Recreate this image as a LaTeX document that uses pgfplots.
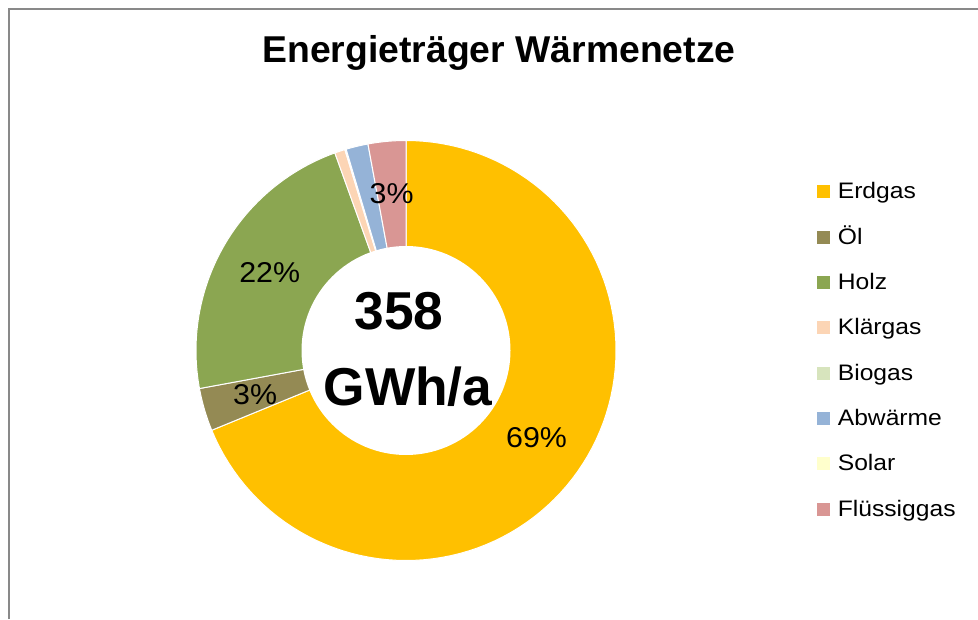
\documentclass[border=0pt]{standalone}
\usepackage{pgfplots}
\pgfplotsset{compat=1.18}
\usepackage{fontspec}
\setmainfont{Liberation Sans}
\usepackage{graphicx}

\definecolor{cErdgas}{HTML}{FFC000}
\definecolor{cOel}{HTML}{948A54}
\definecolor{cHolz}{HTML}{8BA651}
\definecolor{cKlaergas}{HTML}{FCD5B5}
\definecolor{cBiogas}{HTML}{D7E4BD}
\definecolor{cAbwaerme}{HTML}{95B3D7}
\definecolor{cSolar}{HTML}{FFFFCC}
\definecolor{cFluessiggas}{HTML}{D99694}
\definecolor{frame}{HTML}{898989}

% shares in percent (total 358 GWh/a)
\pgfplotstableread{
name        value  color
Erdgas      68.8   cErdgas
Oel         3.3    cOel
Holz        22.4   cHolz
Klaergas    0.8    cKlaergas
Biogas      0.1    cBiogas
Abwaerme    1.7    cAbwaerme
Solar       0.0    cSolar
Fluessiggas 2.9    cFluessiggas
}\sharetable

\tikzset{pct/.style={font=\fontsize{21.5}{25}\selectfont, inner sep=0pt}}

\newcommand\cum{0}
% #1 value (percent), #2 colour, #3 label
\newcommand\donutwedge[3]{%
  \pgfmathsetmacro\aS{90-3.6*\cum}%
  \pgfmathsetmacro\cumnew{\cum+#1}%
  \pgfmathsetmacro\aE{90-3.6*\cumnew}%
  \pgfmathsetmacro\aM{(\aS+\aE)/2}%
  \pgfmathsetmacro\xL{157.25*cos(\aM)}%
  \pgfmathsetmacro\yL{157.25*sin(\aM)}%
  \xdef\cum{\cumnew}%
  \edef\temp{\noexpand\addplot[fill=#2, draw=white, line width=0.75pt,
     domain=\aE:\aS, samples=100, forget plot]
     ({210*cos(x)},{210*sin(x)}) -- (axis cs:0,0) -- cycle;
     \noexpand\node[pct] at (axis cs:\xL,\yL) {\noexpand\scalebox{1.06}[1]{#3}};}%
  \temp
}

\newcommand\legtext[1]{\scalebox{1.1}[1]{#1}}

\begin{document}
\begin{tikzpicture}
\useasboundingbox (0,0) rectangle (733.5pt,464.25pt);
\begin{axis}[
  at={(304.5pt,201.375pt)}, anchor=origin,
  x=0.75pt, y=0.75pt,
  xmin=-406, xmax=572, ymin=-268.5, ymax=350.5,
  hide axis, clip=false,
  legend style={at={(0.8357,0.7045)}, anchor=north west, draw=none, fill=none,
    inner sep=0pt, outer sep=0pt, row sep=18pt, column sep=6pt,
    font=\fontsize{16.8}{19}\selectfont,
    nodes={inner sep=0pt, text height=12pt, text depth=4pt}},
  legend cell align=left,
]
\pgfplotstablegetelem{0}{value}\of\sharetable \let\vA\pgfplotsretval
\pgfplotstablegetelem{1}{value}\of\sharetable \let\vB\pgfplotsretval
\pgfplotstablegetelem{2}{value}\of\sharetable \let\vC\pgfplotsretval
\pgfplotstablegetelem{3}{value}\of\sharetable \let\vD\pgfplotsretval
\pgfplotstablegetelem{4}{value}\of\sharetable \let\vE\pgfplotsretval
\pgfplotstablegetelem{5}{value}\of\sharetable \let\vF\pgfplotsretval
\pgfplotstablegetelem{7}{value}\of\sharetable \let\vH\pgfplotsretval

\donutwedge{\vA}{cErdgas}{69\%}
\donutwedge{\vB}{cOel}{3\%}
\donutwedge{\vC}{cHolz}{22\%}
\donutwedge{\vD}{cKlaergas}{}
\donutwedge{\vE}{cBiogas}{}
\donutwedge{\vF}{cAbwaerme}{}
% Solar: 0 % -> no wedge
\donutwedge{\vH}{cFluessiggas}{3\%}

% hole
\fill[white] (axis cs:0,0) circle[radius=78.375pt];

\node[font=\bfseries\fontsize{40}{48}\selectfont, anchor=base] at (axis cs:-7,21.2) {358};
\node[font=\bfseries\fontsize{40}{48}\selectfont, anchor=base] at (axis cs:2,-54.5) {GWh/a};

\node[font=\bfseries\fontsize{28}{34}\selectfont, anchor=base] at (axis cs:93,287.8) {Energieträger Wärmenetze};

\draw[frame, line width=1.5pt] (axis cs:-397,-268.5) -- (axis cs:-397,341.5) -- (axis cs:572,341.5);

\addlegendimage{legend image code/.code={\fill[cErdgas] (0pt,-2.95pt) rectangle (9pt,6.05pt);}}
\addlegendentry{\legtext{Erdgas}}
\addlegendimage{legend image code/.code={\fill[cOel] (0pt,-2.95pt) rectangle (9pt,6.05pt);}}
\addlegendentry{\legtext{Öl}}
\addlegendimage{legend image code/.code={\fill[cHolz] (0pt,-2.95pt) rectangle (9pt,6.05pt);}}
\addlegendentry{\legtext{Holz}}
\addlegendimage{legend image code/.code={\fill[cKlaergas] (0pt,-2.95pt) rectangle (9pt,6.05pt);}}
\addlegendentry{\legtext{Klärgas}}
\addlegendimage{legend image code/.code={\fill[cBiogas] (0pt,-2.95pt) rectangle (9pt,6.05pt);}}
\addlegendentry{\legtext{Biogas}}
\addlegendimage{legend image code/.code={\fill[cAbwaerme] (0pt,-2.95pt) rectangle (9pt,6.05pt);}}
\addlegendentry{\legtext{Abwärme}}
\addlegendimage{legend image code/.code={\fill[cSolar] (0pt,-2.95pt) rectangle (9pt,6.05pt);}}
\addlegendentry{\legtext{Solar}}
\addlegendimage{legend image code/.code={\fill[cFluessiggas] (0pt,-2.95pt) rectangle (9pt,6.05pt);}}
\addlegendentry{\legtext{Flüssiggas}}
\end{axis}
\end{tikzpicture}
\end{document}
